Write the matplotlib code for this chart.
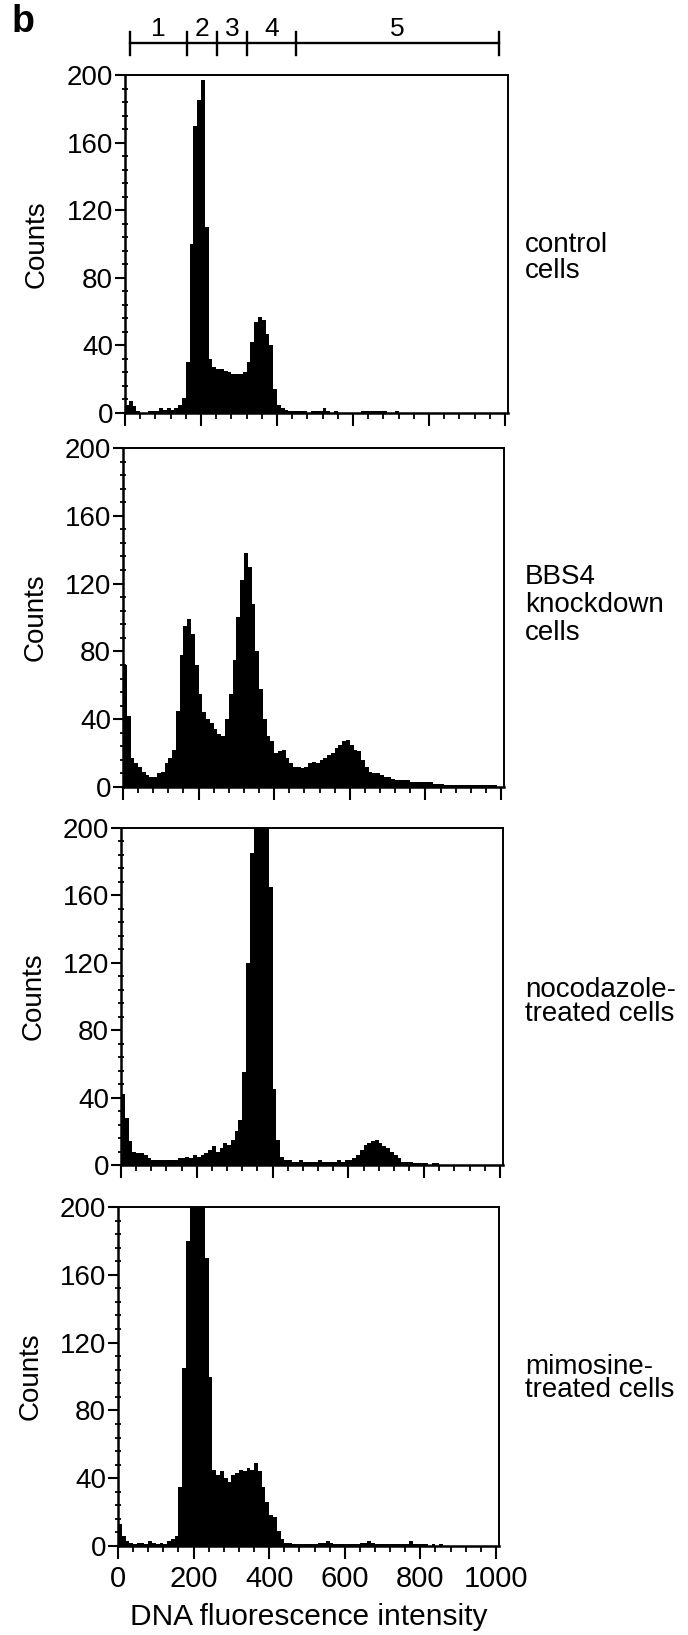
import matplotlib
matplotlib.use("Agg")
import matplotlib.pyplot as plt
import numpy as np
from matplotlib.ticker import MultipleLocator

plt.rcParams["font.family"] = ["Liberation Sans", "DejaVu Sans"]

# --- data (counts per 10-unit channel bin, 0..1000) ---
bin_edges = np.arange(0, 1010, 10)

control_counts = [
    5, 7, 4, 1, 0, 0, 1, 1, 1, 3,
    2, 3, 2, 3, 5, 9, 30, 100, 170, 185,
    197, 110, 32, 27, 26, 26, 25, 24, 23, 23,
    23, 24, 30, 42, 54, 57, 55, 47, 40, 14,
    5, 3, 2, 1, 1, 1, 1, 1, 0, 1,
    1, 1, 3, 1, 0, 1, 0, 0, 0, 0,
    0, 0, 1, 1, 1, 1, 1, 1, 1, 0,
    0, 1, 0, 0, 0, 0, 0, 0, 0, 0,
    0, 0, 0, 0, 0, 0, 0, 0, 0, 0,
    0, 0, 0, 0, 0, 0, 0, 0, 0, 0,
]

bbs4_counts = [
    72, 42, 17, 14, 12, 9, 7, 6, 6, 8,
    9, 14, 17, 22, 45, 78, 95, 99, 90, 72,
    55, 44, 40, 38, 34, 31, 30, 40, 55, 75,
    100, 122, 138, 130, 108, 80, 58, 40, 30, 27,
    20, 21, 22, 17, 14, 12, 12, 11, 12, 14,
    15, 14, 16, 17, 19, 20, 23, 25, 27, 28,
    25, 22, 21, 16, 12, 9, 8, 8, 7, 6,
    6, 5, 4, 4, 4, 4, 3, 3, 3, 3,
    3, 3, 2, 2, 2, 1, 1, 1, 1, 1,
    1, 1, 1, 1, 1, 1, 1, 1, 1, 0,
]

nocodazole_counts = [
    42, 28, 14, 8, 7, 7, 6, 4, 3, 3,
    3, 3, 3, 3, 3, 4, 4, 5, 4, 6,
    5, 6, 7, 9, 11, 8, 10, 13, 12, 15,
    20, 27, 55, 120, 185, 260, 260, 260, 215, 165,
    45, 15, 5, 3, 3, 2, 2, 3, 2, 2,
    2, 2, 3, 2, 2, 2, 2, 3, 2, 3,
    3, 4, 6, 9, 12, 13, 14, 15, 13, 11,
    10, 8, 6, 4, 2, 2, 2, 1, 1, 1,
    1, 0, 1, 1, 0, 0, 0, 0, 0, 0,
    0, 0, 0, 0, 0, 0, 0, 0, 0, 0,
]

mimosine_counts = [
    13, 6, 3, 2, 1, 2, 2, 1, 3, 2,
    1, 2, 1, 3, 4, 6, 35, 105, 180, 260,
    260, 260, 240, 170, 100, 45, 42, 44, 40, 38,
    42, 43, 45, 44, 46, 45, 49, 44, 35, 26,
    18, 17, 9, 4, 2, 2, 1, 1, 1, 1,
    1, 1, 1, 2, 2, 3, 2, 1, 1, 1,
    1, 1, 1, 1, 2, 2, 3, 2, 1, 1,
    1, 1, 1, 1, 1, 1, 1, 3, 1, 1,
    1, 1, 0, 1, 0, 1, 0, 0, 0, 0,
    0, 0, 0, 0, 0, 0, 0, 0, 0, 0,
]

panel_labels = ["control\ncells", "BBS4\nknockdown\ncells",
                "nocodazole-\ntreated cells", "mimosine-\ntreated cells"]

# gates drawn above the first panel
gate_edges = [13, 164, 243, 322, 449, 984]
gate_names = ["1", "2", "3", "4", "5"]

x_ticks = [0, 200, 400, 600, 800, 1000]
y_ticks = [0, 40, 80, 120, 160, 200]

# --- layout (pixels in the 688x1635 image) ---
W, H = 688, 1635
panel_boxes = [  # left, top, right, bottom
    (125, 75, 508, 413),
    (123, 448, 504, 787),
    (121, 828, 503, 1165),
    (118, 1207, 499, 1546),
]
label_centers = [258, 605, 1002, 1378]
label_spacing = [0.97, 1.1, 0.9, 0.85]

fig = plt.figure(figsize=(W / 100, H / 100), dpi=100)

all_counts = [control_counts, bbs4_counts, nocodazole_counts, mimosine_counts]
axes = []
for i, (counts, box) in enumerate(zip(all_counts, panel_boxes)):
    l, t, r, b = box
    ax = fig.add_axes([l / W, (H - b) / H, (r - l) / W, (b - t) / H])
    ax.stairs(counts, bin_edges, fill=True, color="black", baseline=0)
    ax.set_xlim(0, 1008)
    ax.set_ylim(0, 200)

    ax.set_xticks(x_ticks)
    ax.set_yticks(y_ticks)
    ax.xaxis.set_minor_locator(MultipleLocator(40))
    ax.yaxis.set_minor_locator(MultipleLocator(8))
    ax.tick_params(axis="x", which="major", direction="out", length=9.5, width=1.5,
                   labelsize=21, pad=4, labelbottom=(i == 3))
    ax.tick_params(axis="x", which="minor", direction="out", length=4.5, width=1.3)
    ax.tick_params(axis="y", which="major", direction="out", length=7, width=1.5,
                   labelsize=20, pad=1.5)
    ax.tick_params(axis="y", which="minor", direction="inout", length=5, width=1.3)
    ax.tick_params(top=False, right=False)
    for side in ["left", "bottom"]:
        ax.spines[side].set_linewidth(1.8)
    for side in ["top", "right"]:
        ax.spines[side].set_linewidth(1.4)

    ax.set_ylabel("Counts", fontsize=20)
    ax.yaxis.set_label_coords(-0.196, 0.5)

    fig.text(525 / W, (H - label_centers[i]) / H, panel_labels[i], fontsize=20,
             ha="left", va="center", linespacing=label_spacing[i])
    axes.append(ax)

# gate bar over the control panel
ax1 = axes[0]
trans = ax1.get_xaxis_transform()
ax1.plot([gate_edges[0], gate_edges[-1]], [1.095, 1.095], color="black", lw=1.7,
         transform=trans, clip_on=False)
for g in gate_edges:
    ax1.plot([g, g], [1.059, 1.128], color="black", lw=1.7, transform=trans,
             clip_on=False)
for name, a, c in zip(gate_names, gate_edges[:-1], gate_edges[1:]):
    ax1.text((a + c) / 2, 1.115, name, fontsize=19, ha="center", va="baseline",
             transform=trans)

ax4 = axes[3]
ax4.set_xlabel("DNA fluorescence intensity", fontsize=21.5, va="center")
ax4.xaxis.set_label_coords(0.5, -0.209)

fig.text(12 / W, (H - 32) / H, "b", fontsize=27, fontweight="bold",
         ha="left", va="baseline")

fig.savefig("out.png", dpi=100)
